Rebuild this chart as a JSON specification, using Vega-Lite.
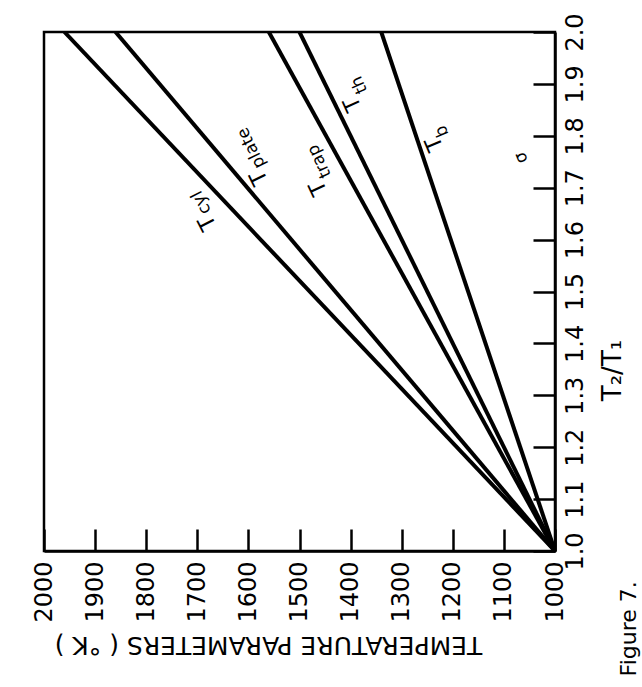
{
  "$schema": "https://vega.github.io/schema/vega-lite/v6.json",
  "width": 511,
  "height": 519,
  "autosize": {"type": "none"},
  "padding": {"left": 44, "top": 32, "right": 87, "bottom": 136},
  "background": "white",
  "config": {
    "view": {"stroke": "black", "strokeWidth": 2.5},
    "font": "DejaVu Sans"
  },
  "datasets": {
    "curves": [
      {"series": "T_cyl", "ratio": 1.0, "temp": 1000},
      {"series": "T_cyl", "ratio": 2.0, "temp": 1960},
      {"series": "T_plate", "ratio": 1.0, "temp": 1000},
      {"series": "T_plate", "ratio": 2.0, "temp": 1860},
      {"series": "T_trap", "ratio": 1.0, "temp": 1000},
      {"series": "T_trap", "ratio": 2.0, "temp": 1560},
      {"series": "T_th", "ratio": 1.0, "temp": 1000},
      {"series": "T_th", "ratio": 2.0, "temp": 1500},
      {"series": "T_b", "ratio": 1.0, "temp": 1000},
      {"series": "T_b", "ratio": 2.0, "temp": 1340}
    ],
    "labels": [
      {"series": "T_cyl", "piece": "main", "text": "T", "temp": 1680, "ratio": 1.632},
      {"series": "T_cyl", "piece": "sub", "text": "cyl", "temp": 1692, "ratio": 1.6715},
      {"series": "T_plate", "piece": "main", "text": "T", "temp": 1579, "ratio": 1.719},
      {"series": "T_plate", "piece": "sub", "text": "plate", "temp": 1594, "ratio": 1.7765},
      {"series": "T_trap", "piece": "main", "text": "T", "temp": 1463, "ratio": 1.699},
      {"series": "T_trap", "piece": "sub", "text": "trap", "temp": 1461, "ratio": 1.7507},
      {"series": "T_th", "piece": "main", "text": "T", "temp": 1396, "ratio": 1.861},
      {"series": "T_th", "piece": "sub", "text": "th", "temp": 1383, "ratio": 1.898},
      {"series": "T_b", "piece": "main", "text": "T", "temp": 1236, "ratio": 1.784},
      {"series": "T_b", "piece": "sub", "text": "b", "temp": 1221, "ratio": 1.809},
      {"series": "sigma", "piece": "sub", "text": "σ", "temp": 1066, "ratio": 1.758}
    ],
    "caption": [
      {"text": "Figure 7.", "temp": 855, "ratio": 0.85}
    ]
  },
  "encoding": {
    "x": {
      "field": "temp",
      "type": "quantitative",
      "scale": {"domain": [1000, 2000], "reverse": true, "nice": false, "zero": false},
      "axis": {
        "values": [1000, 1100, 1200, 1300, 1400, 1500, 1600, 1700, 1800, 1900, 2000],
        "format": "d",
        "grid": false,
        "labelAngle": 270,
        "labelAlign": "right",
        "labelBaseline": "middle",
        "labelFont": "DejaVu Sans",
        "labelFontSize": 24,
        "labelColor": "black",
        "labelPadding": 32,
        "labelFlush": false,
        "labelOverlap": false,
        "tickSize": -22,
        "tickWidth": 2.5,
        "tickColor": "black",
        "domainColor": "black",
        "domainWidth": 2.5,
        "title": "TEMPERATURE PARAMETERS ( °K )",
        "titleFont": "DejaVu Sans",
        "titleFontSize": 25,
        "titleFontWeight": "normal",
        "titleColor": "black",
        "titleAngle": 180,
        "titleAlign": "center",
        "titleBaseline": "middle",
        "titleX": 224,
        "titleY": 93
      }
    },
    "y": {
      "field": "ratio",
      "type": "quantitative",
      "scale": {"domain": [1.0, 2.0], "nice": false, "zero": false},
      "axis": {
        "orient": "right",
        "values": [1.0, 1.1, 1.2, 1.3, 1.4, 1.5, 1.6, 1.7, 1.8, 1.9, 2.0],
        "format": ".1f",
        "grid": false,
        "labelAngle": 270,
        "labelAlign": "center",
        "labelBaseline": "top",
        "labelFont": "DejaVu Sans",
        "labelFontSize": 24,
        "labelColor": "black",
        "labelPadding": 30,
        "labelFlush": false,
        "labelOverlap": false,
        "tickSize": -22,
        "tickWidth": 2.5,
        "tickColor": "black",
        "domainColor": "black",
        "domainWidth": 2.5,
        "title": "T₂/T₁",
        "titleFont": "DejaVu Sans",
        "titleFontSize": 26,
        "titleFontWeight": "normal",
        "titleColor": "black",
        "titleAngle": 270,
        "titleAlign": "center",
        "titleBaseline": "middle",
        "titleX": 57,
        "titleY": 338
      }
    }
  },
  "layer": [
    {
      "data": {"name": "curves"},
      "mark": {"type": "line", "color": "black", "strokeWidth": 4, "clip": true},
      "encoding": {"detail": {"field": "series", "type": "nominal"}}
    },
    {
      "data": {"name": "labels"},
      "transform": [{"filter": "datum.piece === 'main'"}],
      "mark": {"type": "text", "fontSize": 22, "color": "black", "align": "center", "baseline": "middle", "font": "DejaVu Sans"},
      "encoding": {
        "text": {"field": "text"},
        "angle": {
          "field": "series",
          "type": "nominal",
          "scale": {"domain": ["T_cyl", "T_plate", "T_trap", "T_th", "T_b", "sigma"], "range": [243, 248, 264, 278, 285, 270]},
          "legend": null
        }
      }
    },
    {
      "data": {"name": "labels"},
      "transform": [{"filter": "datum.piece === 'sub'"}],
      "mark": {"type": "text", "fontSize": 17, "color": "black", "align": "center", "baseline": "middle", "font": "DejaVu Sans"},
      "encoding": {
        "text": {"field": "text"},
        "angle": {
          "field": "series",
          "type": "nominal",
          "scale": {"domain": ["T_cyl", "T_plate", "T_trap", "T_th", "T_b", "sigma"], "range": [243, 248, 264, 278, 285, 270]},
          "legend": null
        }
      }
    },
    {
      "data": {"name": "caption"},
      "mark": {"type": "text", "fontSize": 22, "color": "black", "align": "center", "baseline": "middle", "angle": 270, "font": "DejaVu Sans"},
      "encoding": {"text": {"field": "text"}}
    }
  ]
}
